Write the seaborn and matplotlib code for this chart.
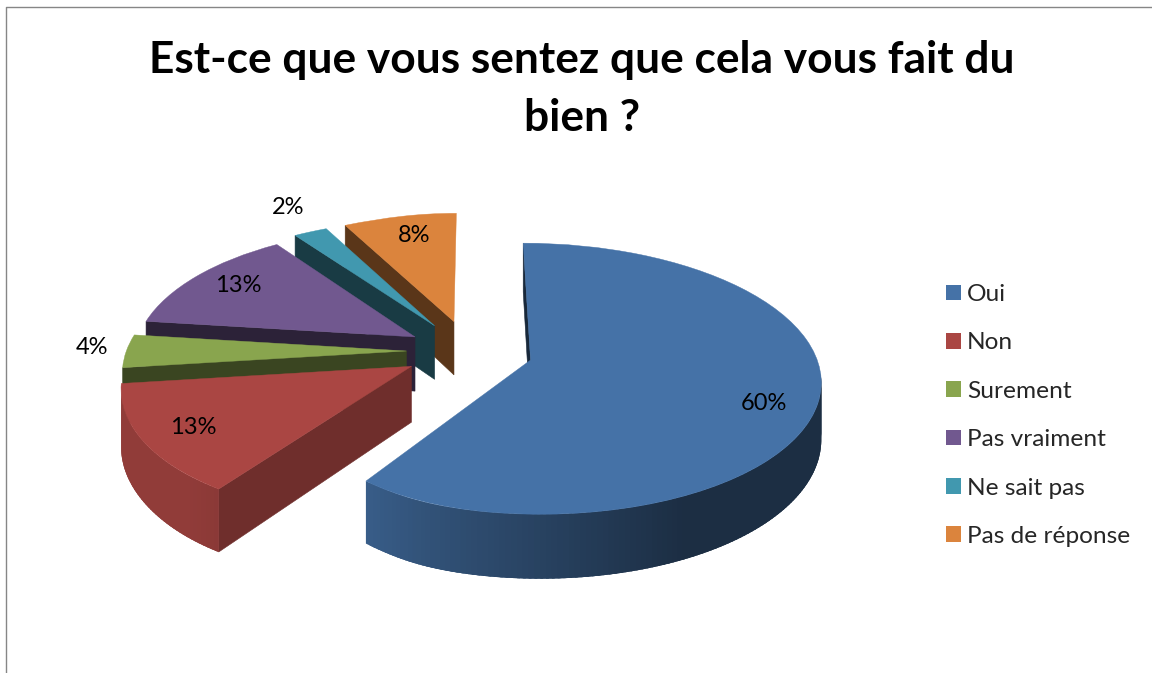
import numpy as np
import matplotlib
matplotlib.use("Agg")
import matplotlib.pyplot as plt
from matplotlib.patches import Polygon, Rectangle
from matplotlib.transforms import Transform
import seaborn as sns

# ---- data ----
categories = ["Oui", "Non", "Surement", "Pas vraiment", "Ne sait pas", "Pas de réponse"]
shares = [60, 13, 4, 13, 2, 8]
share_labels = ["60%", "13%", "4%", "13%", "2%", "8%"]
title_text = "Est-ce que vous sentez que cela vous fait du\nbien ?"

# ---- style ----
palette = sns.color_palette(["#4572A7", "#AA4643", "#89A54E", "#71588F", "#4198AF", "#DB843D"])
cut_shade = [0.35, 0.65, 0.42, 0.39, 0.39, 0.41]
explode = [0.222, 0.227, 0.21, 0.215, 0.235, 0.24]
label_xy = [(764, 404), (193, 427), (92, 348), (238, 285), (288, 207), (414, 235)]
CX, CY, RX, RY, PERSP, DEPTH = 470, 351, 284, 130.5, 0.1365, 55

sns.set_theme(style="white")
plt.rcParams["font.family"] = ["Lato", "DejaVu Sans"]

fig = plt.figure(figsize=(11.52, 6.73), dpi=100, facecolor="white")
ax = fig.add_axes([0, 0, 1, 1])


def project(u, v, z=0.0):
    """Flat pie coordinates (u, v, depth fraction) to pixel coordinates."""
    u, v = np.asarray(u, float), np.asarray(v, float)
    s = 1.0 / (1.0 + PERSP * v)
    amp = 10.0 + 9.0 * np.clip(-v / 0.5, 0.0, 1.0)
    warp = amp * np.exp(-((u + 0.45) / 0.25) ** 2)
    warp -= 8.0 * np.exp(-((u + 0.2) / 0.1) ** 2 - (v / 0.25) ** 2)
    return CX + RX * u * s + warp, CY - RY * v * s + DEPTH * z * s


class Perspective(Transform):
    input_dims = output_dims = 2
    is_separable = False
    has_inverse = False

    def transform_non_affine(self, values):
        values = np.asarray(values)
        x, y = project(values[:, 0], values[:, 1])
        return np.column_stack([x, y])


wedges, _ = ax.pie(shares, colors=palette, explode=explode, startangle=90,
                   counterclock=False, radius=1.0, center=(0, 0))
ax.set_aspect("auto")
ax.set_xlim(0, 1152)
ax.set_ylim(673, 0)
ax.axis("off")
persp = Perspective() + ax.transData


def darker(color, f):
    return tuple(min(1, c * f) for c in color)


def wall_shade(nx):
    return float(np.clip(0.58 - 0.4 * nx, 0.40, 0.85))


for rank, k in enumerate([5, 4, 3, 2, 1, 0]):
    w = wedges[k]
    color = palette[k]
    cx0, cy0 = w.center
    z0 = 10 + rank * 10
    # radial cut face on the clockwise-leading edge (the one the viewer sees)
    a = np.radians(w.theta2)
    tip = (cx0 + np.cos(a), cy0 + np.sin(a))
    pts = [project(cx0, cy0, 0), project(*tip, 0), project(*tip, 1), project(cx0, cy0, 1)]
    ax.add_patch(Polygon(np.array(pts), closed=True, fc=darker(color, cut_shade[k]),
                         ec=darker(color, cut_shade[k]), lw=0.4, zorder=z0, clip_on=False))
    # outer wall strips (front-facing part only), each overlapping the next
    angles = np.arange(w.theta1, w.theta2 + 1.0, 1.0)
    angles[-1] = min(angles[-1], w.theta2)
    for a0, a1 in zip(angles[:-1], angles[1:]):
        am = np.radians((a0 + a1) / 2)
        if np.sin(am) > -0.13:
            continue
        arc = np.radians(np.linspace(a0, min(a1 + 1.5, w.theta2), 4))
        top = [project(cx0 + np.cos(t), cy0 + np.sin(t), 0) for t in arc]
        bot = [project(cx0 + np.cos(t), cy0 + np.sin(t), 1) for t in arc[::-1]]
        col = darker(color, wall_shade(np.cos(am)))
        ax.add_patch(Polygon(np.array(top + bot), closed=True, fc=col, ec="none",
                             zorder=z0 + 1, clip_on=False))
    # top face: the pie wedge itself
    w.set_transform(persp)
    w.set_clip_on(False)
    w.set_zorder(z0 + 2)
    w.set_edgecolor(color)
    w.set_linewidth(0.3)

for text, (x, y) in zip(share_labels, label_xy):
    ax.text(x, y, text, ha="center", va="center", fontsize=17, color="black", zorder=200)

ax.text(582, 89, title_text, ha="center", va="center", fontsize=31.85, fontweight="bold",
        color="black", linespacing=1.52, zorder=200)

# chart frame (only its left and top edges are inside the picture)
fig.add_artist(plt.Line2D([5.5 / 1152, 5.5 / 1152, 1], [0, 1 - 6.5 / 673, 1 - 6.5 / 673],
                          color="#868686", lw=1))

leg_handles = [Rectangle((0, 0), 1, 1, fc=c, ec="none") for c in palette]
ax.legend(leg_handles, categories, loc="upper left", bbox_to_anchor=(946 / 1152, 1 - 284 / 673),
          bbox_transform=fig.transFigure, frameon=False, fontsize=17.6, handlelength=0.61,
          handleheight=0.61, handletextpad=0.25, labelspacing=1.12, borderpad=0, borderaxespad=0)

fig.savefig("out.png", dpi=100, facecolor="white")
